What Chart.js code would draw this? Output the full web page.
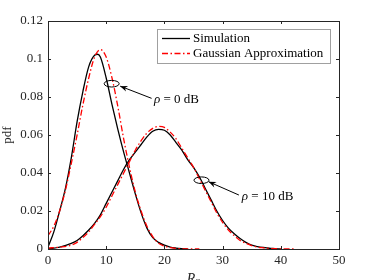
<!DOCTYPE html>
<html>
<head>
<meta charset="utf-8">
<script src="https://cdn.jsdelivr.net/npm/chart.js@4.4.0/dist/chart.umd.min.js"></script>
<style>
  html, body { margin: 0; padding: 0; background: #fff; }
  #wrap { width: 374px; height: 280px; position: relative; }
</style>
</head>
<body>
<div id="wrap"><canvas id="pdfChart"></canvas></div>
<script>
// rho = 0 dB, simulation
const xSim0 = [0, 1, 2, 3, 4, 5, 6, 7, 8, 8.5, 9, 10, 11, 12, 13, 14, 15, 16, 17, 18, 19, 20, 21, 22, 23, 24];
const ySim0 = [0.001, 0.009, 0.020, 0.032, 0.048, 0.067, 0.083, 0.096, 0.102, 0.1025, 0.101, 0.090, 0.076, 0.063, 0.051, 0.040, 0.029, 0.019, 0.011, 0.006, 0.0035, 0.002, 0.001, 0.0005, 0.0002, 0];
// rho = 0 dB, gaussian approximation
const xGau0 = [0, 1, 2, 3, 4, 5, 6, 7, 8, 9, 10, 11, 12, 13, 14, 15, 16, 17, 18, 19, 20, 21, 22, 23, 24, 25, 26];
const yGau0 = [0.007, 0.012, 0.020, 0.031, 0.045, 0.060, 0.076, 0.090, 0.101, 0.105, 0.101, 0.090, 0.075, 0.058, 0.043, 0.030, 0.020, 0.012, 0.0065, 0.003, 0.0015, 0.0007, 0.0003, 0.0001, 0, 0, 0];
// rho = 10 dB, simulation
const xSim10 = [0, 2, 4, 5, 6, 7, 8, 9, 10, 11, 12, 13, 14, 15, 16, 17, 18, 19, 20, 21, 22, 23, 24, 25, 26, 27, 28, 29, 30, 31, 32, 33, 34, 35, 36, 37, 38, 39, 40];
const ySim10 = [0, 0.001, 0.003, 0.0045, 0.007, 0.010, 0.0135, 0.018, 0.024, 0.030, 0.036, 0.042, 0.047, 0.051, 0.055, 0.059, 0.062, 0.063, 0.0625, 0.060, 0.056, 0.052, 0.047, 0.043, 0.038, 0.032, 0.026, 0.020, 0.015, 0.011, 0.008, 0.0055, 0.0035, 0.002, 0.0013, 0.0008, 0.0004, 0.0002, 0];
// rho = 10 dB, gaussian approximation
const xGau10 = [0, 2, 4, 5, 6, 7, 8, 9, 10, 11, 12, 13, 14, 15, 16, 17, 18, 19, 20, 21, 22, 23, 24, 25, 26, 27, 28, 29, 30, 31, 32, 33, 34, 35, 36, 37, 38, 40, 42.5];
const yGau10 = [0.0005, 0.001, 0.002, 0.0035, 0.006, 0.009, 0.013, 0.017, 0.022, 0.028, 0.034, 0.040, 0.046, 0.052, 0.057, 0.061, 0.0635, 0.0645, 0.064, 0.0615, 0.058, 0.053, 0.048, 0.043, 0.037, 0.031, 0.025, 0.019, 0.014, 0.010, 0.007, 0.0045, 0.003, 0.0018, 0.001, 0.0006, 0.0003, 0.0001, 0];

const xTicks = [0, 10, 20, 30, 40, 50];
const yTicks = [0, 0.02, 0.04, 0.06, 0.08, 0.1, 0.12];
const seriesNames = ['Simulation', 'Gaussian Approximation'];

// annotations: ellipse centre, arrow head, arrow tail, label start (data units)
const notes = [
  { label: '0 dB',  ell: [10.94, 0.087],  head: [12.4, 0.0857], tail: [17.8, 0.0793], text: [18.2, 0.0786] },
  { label: '10 dB', ell: [26.37, 0.0362], head: [27.6, 0.0354], tail: [32.8, 0.0284], text: [33.3, 0.0276] }
];

const SERIF = '"Liberation Serif", "DejaVu Serif", serif';
const AXIS = '#262626';

function pts(xs, ys) {
  return xs.map((x, i) => ({ x: x, y: ys[i] }));
}

const simStyle = { borderColor: '#000', borderWidth: 1.3, pointRadius: 0, fill: false, cubicInterpolationMode: 'monotone' };
const gauStyle = { borderColor: '#ff0000', borderWidth: 1.3, borderDash: [6, 2.5, 1.5, 2.5], pointRadius: 0, fill: false, cubicInterpolationMode: 'monotone' };

// box, inward ticks, legend and annotations
const decorPlugin = {
  id: 'decor',
  afterDatasetsDraw(chart) {
    const ctx = chart.ctx;
    const a = chart.chartArea;
    const xs = chart.scales.x, ys = chart.scales.y;
    ctx.save();
    ctx.strokeStyle = AXIS;
    ctx.lineWidth = 1;
    ctx.strokeRect(Math.round(a.left) + 0.5, Math.round(a.top) + 0.5, Math.round(a.right - a.left), Math.round(a.bottom - a.top));
    const tl = 3;
    ctx.beginPath();
    xTicks.forEach(v => {
      const p = Math.round(xs.getPixelForValue(v)) + 0.5;
      ctx.moveTo(p, a.bottom); ctx.lineTo(p, a.bottom - tl);
      ctx.moveTo(p, a.top); ctx.lineTo(p, a.top + tl);
    });
    yTicks.forEach(v => {
      const p = Math.round(ys.getPixelForValue(v)) + 0.5;
      ctx.moveTo(a.left, p); ctx.lineTo(a.left + tl, p);
      ctx.moveTo(a.right, p); ctx.lineTo(a.right - tl, p);
    });
    ctx.stroke();

    // legend
    const lx = a.left + 109, ly = a.top + 8, lw = 173, lh = 34;
    ctx.fillStyle = '#fff';
    ctx.fillRect(lx, ly, lw, lh);
    ctx.strokeStyle = '#a0a0a0';
    ctx.strokeRect(lx + 0.5, ly + 0.5, lw, lh);
    const rows = [ly + 9.5, ly + 24.5];
    [simStyle, gauStyle].forEach((s, i) => {
      ctx.beginPath();
      ctx.strokeStyle = s.borderColor;
      ctx.lineWidth = s.borderWidth;
      ctx.setLineDash(s.borderDash || []);
      ctx.moveTo(lx + 5, rows[i]);
      ctx.lineTo(lx + 33, rows[i]);
      ctx.stroke();
      ctx.setLineDash([]);
      ctx.fillStyle = '#000';
      ctx.font = '13px ' + SERIF;
      ctx.textBaseline = 'middle';
      ctx.textAlign = 'left';
      ctx.fillText(seriesNames[i], lx + 36, rows[i]);
    });

    // annotations
    ctx.strokeStyle = '#000';
    ctx.fillStyle = '#000';
    ctx.lineWidth = 1;
    notes.forEach(n => {
      const ex = xs.getPixelForValue(n.ell[0]), ey = ys.getPixelForValue(n.ell[1]);
      ctx.beginPath();
      ctx.ellipse(ex, ey, 7.5, 3.3, 0, 0, Math.PI * 2);
      ctx.stroke();
      const hx = xs.getPixelForValue(n.head[0]), hy = ys.getPixelForValue(n.head[1]);
      const tx = xs.getPixelForValue(n.tail[0]), ty = ys.getPixelForValue(n.tail[1]);
      ctx.beginPath();
      ctx.moveTo(tx, ty); ctx.lineTo(hx, hy);
      ctx.stroke();
      const ang = Math.atan2(hy - ty, hx - tx);
      const al = 8, aw = 0.38;
      ctx.beginPath();
      ctx.moveTo(hx, hy);
      ctx.lineTo(hx - al * Math.cos(ang - aw), hy - al * Math.sin(ang - aw));
      ctx.lineTo(hx - 5 * Math.cos(ang), hy - 5 * Math.sin(ang));
      ctx.lineTo(hx - al * Math.cos(ang + aw), hy - al * Math.sin(ang + aw));
      ctx.closePath();
      ctx.fill();
      const px = xs.getPixelForValue(n.text[0]), py = ys.getPixelForValue(n.text[1]);
      ctx.textBaseline = 'middle';
      ctx.textAlign = 'left';
      ctx.font = 'italic 13px ' + SERIF;
      ctx.fillText('\u03C1', px, py);
      const w = ctx.measureText('\u03C1').width;
      ctx.font = '13px ' + SERIF;
      ctx.fillText(' = ' + n.label, px + w, py);
    });
    ctx.restore();
  }
};

const canvas = document.getElementById('pdfChart');
canvas.width = 374;
canvas.height = 280;

new Chart(canvas, {
  type: 'line',
  data: {
    datasets: [
      Object.assign({ label: seriesNames[0], data: pts(xSim0, ySim0), order: 2 }, simStyle),
      Object.assign({ label: seriesNames[1], data: pts(xGau0, yGau0), order: 1 }, gauStyle),
      Object.assign({ label: seriesNames[0], data: pts(xSim10, ySim10), order: 2 }, simStyle),
      Object.assign({ label: seriesNames[1], data: pts(xGau10, yGau10), order: 1 }, gauStyle)
    ]
  },
  options: {
    responsive: false,
    animation: false,
    devicePixelRatio: 1,
    layout: { padding: { top: 21, right: 35, left: 0, bottom: 0 } },
    plugins: { legend: { display: false }, tooltip: { enabled: false } },
    scales: {
      x: {
        type: 'linear',
        min: 0, max: 50,
        afterBuildTicks: s => { s.ticks = xTicks.map(v => ({ value: v })); },
        afterFit: s => { s.height = 31; },
        grid: { display: false, drawTicks: false, tickLength: 0 },
        border: { display: false },
        ticks: { color: AXIS, font: { family: SERIF, size: 13 }, padding: 4, maxRotation: 0 },
        title: { display: true, text: 'R\u209B', color: AXIS, padding: { top: 0, bottom: -8 }, font: { family: SERIF, size: 14, style: 'italic' } }
      },
      y: {
        min: 0, max: 0.12,
        afterBuildTicks: s => { s.ticks = yTicks.map(v => ({ value: v })); },
        afterFit: s => { s.width = 48; },
        grid: { display: false, drawTicks: false, tickLength: 0 },
        border: { display: false },
        ticks: { color: AXIS, font: { family: SERIF, size: 13 }, padding: 5, callback: v => String(+v.toFixed(2)) },
        title: { display: true, text: 'pdf', color: AXIS, padding: { top: 0, bottom: 0 }, font: { family: SERIF, size: 13 } }
      }
    }
  },
  plugins: [decorPlugin]
});
</script>
</body>
</html>
